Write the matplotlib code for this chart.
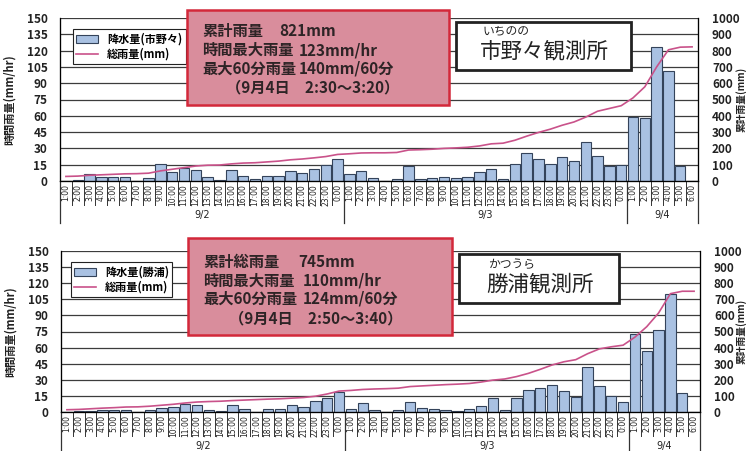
import numpy as np
import matplotlib
matplotlib.use('Agg')
import matplotlib.pyplot as plt
from matplotlib.patches import Rectangle, Patch
from matplotlib.lines import Line2D

plt.rcParams['font.family'] = ['Noto Sans CJK JP', 'DejaVu Sans']

# hour labels, 9/2 1:00 -> 9/4 6:00
day_hours = ['1:00', '2:00', '3:00', '4:00', '5:00', '6:00', '7:00', '8:00',
             '9:00', '10:00', '11:00', '12:00', '13:00', '14:00', '15:00', '16:00',
             '17:00', '18:00', '19:00', '20:00', '21:00', '22:00', '23:00', '0:00']
hour_labels = day_hours + day_hours + day_hours[:6]
dates = ['9/2', '9/3', '9/4']
date_spans = [(0, 24), (24, 48), (48, 54)]

# 市野々 hourly rain (mm/hr)
ichinono_rain = [0, 1, 6, 4, 4, 4, 0, 3, 15.5, 8, 12, 10, 4, 1, 10, 5, 2, 5, 5, 9, 7, 11, 15, 20,
                 6, 9, 3, 0, 1.5, 13.5, 2, 2.5, 3.5, 2.5, 3.5, 8, 11.5, 2, 15.5, 26, 20, 15.5, 22.5, 18, 36, 23, 14, 14.5,
                 59, 58, 123, 101, 14, 0]
# 市野々 cumulative (mm)
ichinono_total = [28, 30, 35, 38, 41, 44, 45, 48, 62, 72, 82, 92, 97, 98, 105, 110, 112, 117, 122, 130, 135, 142, 150, 163,
                  167, 172, 173, 173, 175, 190, 192, 195, 200, 203, 207, 215, 228, 232, 250, 275, 298, 318, 342, 362, 392, 428, 445, 462,
                  510, 578, 700, 805, 821, 823]

# 勝浦 hourly rain (mm/hr)
katsuura_rain = [0, 1, 1, 2, 2, 2, 0, 2, 3.5, 5, 7, 6.5, 1.5, 1, 6.5, 3, 0, 3, 3, 6.5, 5, 10, 13, 19,
                 3, 8, 1.5, 0, 2, 9.5, 3.5, 2.5, 2, 1, 2.5, 5.5, 13, 1.5, 13, 20.5, 22, 25.5, 20, 14, 41.5, 24, 14.5, 9.5,
                 73, 57, 76, 110, 18, 0]
# 勝浦 cumulative (mm)
katsuura_total = [14, 16, 20, 24, 27, 31, 32, 36, 42, 48, 56, 62, 65, 67, 71, 74, 77, 80, 82, 86, 90, 98, 112, 130,
                  134, 140, 143, 145, 148, 158, 162, 166, 170, 173, 177, 186, 198, 205, 220, 240, 265, 292, 312, 325, 362, 392, 405, 415,
                  465, 530, 615, 735, 750, 750]

BAR = '#a9c1e2'
BAR_EDGE = '#34435a'
LINE = '#c9528a'
GRID = '#3c3c3c'
BOX_FILL = '#d98d9c'
BOX_EDGE = '#d3283a'
TXT = '#2e2426'

W, H = 750, 451
fig = plt.figure(figsize=(W / 100, H / 100), dpi=100)


def fx(x):
    return x / W


def fy(y):
    return 1 - y / H


def panel(rect, rain, total, rain_label, legend_anchor):
    ax = fig.add_axes(rect)
    x = np.arange(len(rain))
    ax.bar(x, rain, width=0.88, color=BAR, edgecolor=BAR_EDGE, linewidth=0.8, zorder=2)
    ax.set_xlim(-0.5, len(rain) - 0.5)
    ax.set_ylim(0, 150)
    ax.set_yticks(np.arange(0, 151, 15))
    ax.yaxis.grid(True, color=GRID, linewidth=0.9, zorder=0)
    ax.set_axisbelow(True)
    ax.spines['top'].set_visible(False)
    for s in ['left', 'right', 'bottom']:
        ax.spines[s].set_color('#222222')
        ax.spines[s].set_linewidth(0.9)
    ax.set_xticks(x)
    ax.set_xticklabels(hour_labels, rotation=90, fontsize=5.5, family='DejaVu Sans', color='#222222')
    ax.tick_params(axis='x', length=0, pad=2)
    ax.tick_params(axis='y', length=0, pad=9, labelsize=8.5, labelcolor='#222222')
    for t in ax.get_yticklabels():
        t.set_fontweight('bold')
    ax.set_ylabel('時間雨量(mm/hr)', fontsize=8, color='#222222', labelpad=8, fontweight='bold')

    # cell separators under the axis
    tr = ax.get_xaxis_transform()
    for i in range(len(rain) + 1):
        ax.plot([i - 0.5, i - 0.5], [0, -0.15], transform=tr, color='#333333',
                linewidth=0.7, clip_on=False)
    for (a, b), d in zip(date_spans, dates):
        ax.plot([a - 0.5, a - 0.5], [0, -0.26], transform=tr, color='#333333',
                linewidth=0.9, clip_on=False)
        ax.text((a + b - 1) / 2, -0.21, d, transform=tr, ha='center', va='center',
                fontsize=7, family='DejaVu Sans', color='#222222')
    ax.plot([len(rain) - 0.5] * 2, [0, -0.26], transform=tr, color='#333333',
            linewidth=0.9, clip_on=False)

    ax2 = ax.twinx()
    ax2.plot(x, total, color=LINE, linewidth=1.2, zorder=3)
    ax2.set_ylim(0, 1000)
    ax2.set_yticks(np.arange(0, 1001, 100))
    ax2.tick_params(axis='y', length=0, pad=10, labelsize=8.5, labelcolor='#222222')
    for t in ax2.get_yticklabels():
        t.set_fontweight('bold')
    ax2.spines['top'].set_visible(False)

    # right axis title, kept inside the figure edge
    y_mid = rect[1] + rect[3] / 2
    fig.text(fx(741), y_mid, '累計雨量(mm)', rotation=90, fontsize=7, color='#222222',
             ha='center', va='center', fontweight='bold')

    handles = [Patch(facecolor=BAR, edgecolor=BAR_EDGE, linewidth=0.8),
               Line2D([0], [0], color=LINE, linewidth=1.2)]
    leg = ax2.legend(handles, [rain_label, '総雨量(mm)'], loc='upper left',
                     bbox_to_anchor=legend_anchor, fontsize=8, frameon=True,
                     fancybox=False, edgecolor='#222222', framealpha=1,
                     borderpad=0.3, handlelength=2.0, handleheight=0.7,
                     labelspacing=0.2, borderaxespad=0)
    leg.get_frame().set_linewidth(0.8)
    for t in leg.get_texts():
        t.set_fontweight('bold')
    return ax, ax2


panel([fx(60), fy(181), 638 / W, 163 / H], ichinono_rain, ichinono_total,
      '降水量(市野々)', (0.02, 0.93))
panel([fx(61), fy(412), 639 / W, 161 / H], katsuura_rain, katsuura_total,
      '降水量(勝浦)', (0.015, 0.93))


def box(x0, y0, x1, y1, face, edge, lw):
    fig.add_artist(Rectangle((fx(x0), fy(y1)), (x1 - x0) / W, (y1 - y0) / H,
                             transform=fig.transFigure, facecolor=face,
                             edgecolor=edge, linewidth=lw, zorder=5))


def info(key_x, rows, last_x, last_y, last_text):
    for key, val, y, vx in rows:
        fig.text(fx(key_x), fy(y), key, fontsize=11, color=TXT, va='center', ha='left',
                 fontweight='bold', zorder=6)
        fig.text(fx(vx), fy(y), val, fontsize=11, color=TXT, va='center', ha='left',
                 fontweight='bold', zorder=6)
    fig.text(fx(last_x), fy(last_y), last_text, fontsize=11, color=TXT, va='center', ha='left',
             fontweight='bold', zorder=6)


# top info
box(187, 10, 449, 105, BOX_FILL, BOX_EDGE, 1.8)
info(202, [('累計雨量', '821mm', 31, 279),
           ('時間最大雨量', '123mm/hr', 50, 299),
           ('最大60分雨量', '140mm/60分', 69, 299)],
     226, 87, '（9月4日　2:30～3:20）')
box(456, 22, 631, 70, 'white', '#222222', 2.0)
fig.text(fx(483), fy(31), 'いちのの', fontsize=8.5, color='#222222', va='center', ha='left', zorder=6)
fig.text(fx(544), fy(51), '市野々観測所', fontsize=15.5, color='#222222', va='center', ha='center', zorder=6)

# bottom info
box(188, 238, 452, 335, BOX_FILL, BOX_EDGE, 1.8)
info(203, [('累計総雨量', '745mm', 262, 298),
           ('時間最大雨量', '110mm/hr', 281, 303),
           ('最大60分雨量', '124mm/60分', 299, 303)],
     229, 318, '（9月4日　2:50～3:40）')
box(459, 254, 619, 303, 'white', '#222222', 2.0)
fig.text(fx(488), fy(264), 'かつうら', fontsize=8.5, color='#222222', va='center', ha='left', zorder=6)
fig.text(fx(540), fy(284), '勝浦観測所', fontsize=15.5, color='#222222', va='center', ha='center', zorder=6)

fig.savefig('out.png', dpi=100)
